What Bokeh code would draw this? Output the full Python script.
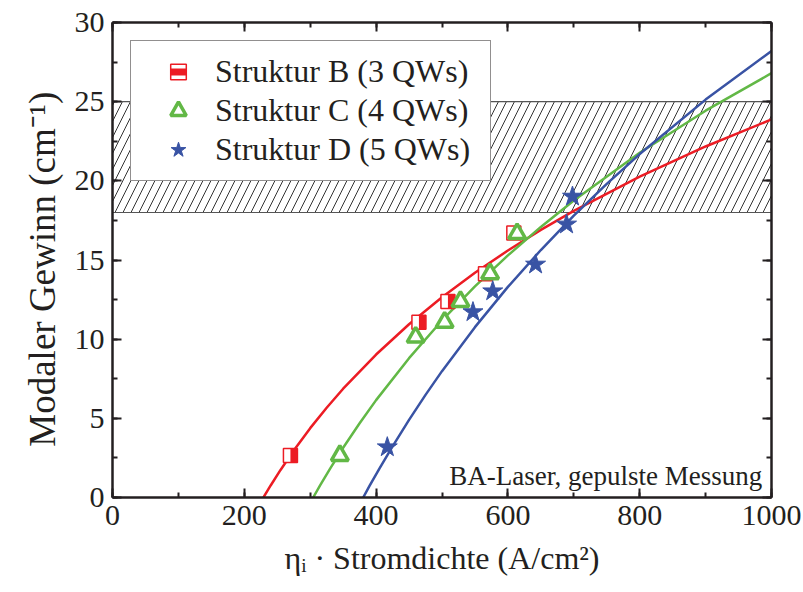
import math
from bokeh.plotting import figure
from bokeh.models import (Range1d, LinearAxis, SingleIntervalTicker, Legend,
                          LegendItem, Label, ColumnDataSource, CustomJSTickFormatter)
from bokeh.transform import dodge
from bokeh.embed import file_html
from bokeh.resources import INLINE

# ---- measured points ----
b_x = [270, 465, 509, 566, 609]
b_y = [2.65, 11.07, 12.38, 14.13, 16.7]
c_x = [345, 460, 504, 528, 573, 614]
c_y = [2.65, 10.13, 11.07, 12.38, 14.13, 16.66]
d_x = [417, 547, 577, 642, 689, 698]
d_y = [3.18, 11.71, 13.03, 14.72, 17.25, 19.01]

# ---- fit curves ----
b_fit_x = [229, 240, 255, 275, 300, 325, 350, 400, 450, 500, 550, 600, 650, 700, 800, 900, 1000]
b_fit_y = [0, 0.76, 1.74, 2.97, 4.38, 5.67, 6.87, 9.03, 10.94, 12.65, 14.19, 15.60, 16.90, 18.10, 20.26, 22.17, 23.88]
c_fit_x = [304.5, 315, 330, 350, 375, 400, 450, 500, 550, 600, 650, 700, 800, 900, 1000]
c_fit_y = [0, 0.76, 1.81, 3.14, 4.69, 6.15, 8.80, 11.18, 13.33, 15.29, 17.09, 18.76, 21.77, 24.43, 26.80]
d_fit_x = [380.4, 390, 405, 425, 450, 475, 500, 550, 600, 650, 700, 750, 800, 900, 1000]
d_fit_y = [0, 0.73, 1.83, 3.23, 4.90, 6.48, 7.98, 10.76, 13.30, 15.63, 17.80, 19.81, 21.69, 25.13, 28.20]

# ---- threshold gain band ----
band_low = 18
band_high = 25

labels = ["Struktur B (3 QWs)", "Struktur C (4 QWs)", "Struktur D (5 QWs)"]
note = "BA-Laser, gepulste Messung"
x_label = "\u03b7\u1d62 \u00b7 Stromdichte (A/cm\u00b2)"
y_label = "Modaler Gewinn (cm\u207b\u00b9)\u00a0\u00a0"

RED = "#ec1c24"
GREEN = "#62b846"
BLUE = "#3953a4"
INK = "#231f20"
FONT = "Liberation Serif"

W, H = 803, 592
ML, MR, MT, MB = 112, 32, 22, 95
frame_w = W - ML - MR

p = figure(width=W, height=H, output_backend="svg", toolbar_location=None,
           x_range=Range1d(0, 1000), y_range=Range1d(0, 30),
           min_border_left=ML, min_border_right=MR, min_border_top=MT,
           min_border_bottom=MB, x_axis_location=None, y_axis_location=None)
p.xgrid.visible = False
p.ygrid.visible = False
p.outline_line_color = None
p.background_fill_color = "white"
p.border_fill_color = "white"


def style_axis(ax, show_labels):
    ax.axis_line_color = INK
    ax.axis_line_width = 2.5
    ax.major_tick_line_color = INK
    ax.minor_tick_line_color = INK
    ax.major_tick_line_width = 2
    ax.minor_tick_line_width = 2
    ax.major_tick_in = 9
    ax.major_tick_out = 0
    ax.minor_tick_in = 5
    ax.minor_tick_out = 0
    ax.major_label_text_font = FONT
    ax.major_label_text_color = INK
    if show_labels:
        ax.major_label_text_font_size = "30px"
        ax.major_label_standoff = 8
    else:
        ax.major_label_text_font_size = "10px"
        ax.major_label_standoff = 0
        ax.formatter = CustomJSTickFormatter(code="return ''")
    ax.axis_label_text_font = FONT
    ax.axis_label_text_font_style = "normal"
    ax.axis_label_text_color = INK


xt = SingleIntervalTicker(interval=200, num_minor_ticks=2)
yt = SingleIntervalTicker(interval=5, num_minor_ticks=2)

xb = LinearAxis(ticker=xt, axis_label=x_label)
style_axis(xb, True)
xb.axis_label_text_font_size = "32px"
xb.axis_label_standoff = 12
p.add_layout(xb, "below")
xa = LinearAxis(ticker=xt)
style_axis(xa, False)
p.add_layout(xa, "above")
yl = LinearAxis(ticker=yt, axis_label=y_label)
style_axis(yl, True)
yl.axis_label_text_font_size = "37px"
yl.axis_label_standoff = 9
p.add_layout(yl, "left")
yr = LinearAxis(ticker=yt)
style_axis(yr, False)
p.add_layout(yr, "right")

# hatched band
p.hbar(y=[(band_low + band_high) / 2], height=[band_high - band_low], left=[0], right=[1000],
       fill_color=None, line_color="#555555", line_width=1.2,
       hatch_pattern="/", hatch_color="#333333", hatch_scale=16, hatch_weight=1)

# fits
p.line(b_fit_x, b_fit_y, line_color=RED, line_width=2.5)
p.line(c_fit_x, c_fit_y, line_color=GREEN, line_width=2.5)
p.line(d_fit_x, d_fit_y, line_color=BLUE, line_width=2.5)

# markers
src_b = ColumnDataSource(dict(x=b_x, y=b_y))
half = 3.5 * 1000 / frame_w
rb1 = p.scatter("x", "y", source=src_b, marker="square", size=14, fill_color="white",
                line_color=RED, line_width=1.5)
rb2 = p.scatter(dodge("x", half, range=p.x_range), "y", source=src_b, marker="dash", size=14,
                angle=math.pi / 2, line_color=RED, line_width=7, line_cap="butt")
rc = p.scatter(c_x, c_y, marker="triangle", size=17, fill_color="white",
               line_color=GREEN, line_width=3.5)
rd = p.scatter(d_x, d_y, marker="star", size=21, fill_color=BLUE, line_color=BLUE,
               line_width=1)

legend = Legend(items=[LegendItem(label=labels[0], renderers=[rb1, rb2]),
                       LegendItem(label=labels[1], renderers=[rc]),
                       LegendItem(label=labels[2], renderers=[rd])],
                location="top_left")
legend.margin = 18
legend.padding = 11
legend.glyph_width = 72
legend.glyph_height = 39
legend.label_height = 39
legend.label_width = 264
legend.spacing = 0
legend.label_standoff = 1
legend.label_text_font = FONT
legend.label_text_font_size = "32px"
legend.label_text_color = INK
legend.border_line_color = INK
legend.border_line_width = 1.5
legend.background_fill_color = "white"
legend.background_fill_alpha = 1
p.add_layout(legend)

p.add_layout(Label(x=986, y=1.33, text=note, text_align="right", text_baseline="alphabetic",
                   text_font=FONT, text_font_size="27px", text_color=INK))

open("out.html", "w").write(file_html(p, INLINE))
